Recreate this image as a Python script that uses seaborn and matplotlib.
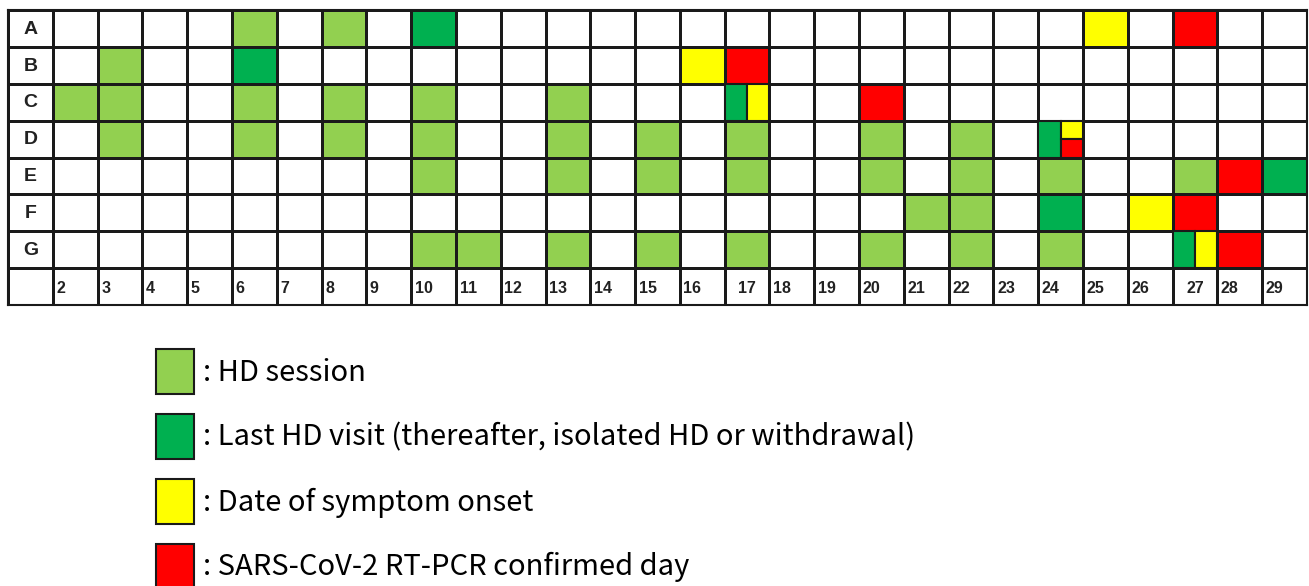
import numpy as np
import pandas as pd
import seaborn as sns
import matplotlib.pyplot as plt
from matplotlib.colors import ListedColormap
from matplotlib.patches import Rectangle, Patch

# --- data ---
patients = ['A', 'B', 'C', 'D', 'E', 'F', 'G']
days = list(range(2, 30))

hd_session = [('A', 6), ('A', 8),
              ('B', 3),
              ('C', 2), ('C', 3), ('C', 6), ('C', 8), ('C', 10), ('C', 13),
              ('D', 3), ('D', 6), ('D', 8), ('D', 10), ('D', 13), ('D', 15), ('D', 17), ('D', 20), ('D', 22),
              ('E', 10), ('E', 13), ('E', 15), ('E', 17), ('E', 20), ('E', 22), ('E', 24), ('E', 27),
              ('F', 21), ('F', 22),
              ('G', 10), ('G', 11), ('G', 13), ('G', 15), ('G', 17), ('G', 20), ('G', 22), ('G', 24)]
last_visit = [('A', 10), ('B', 6), ('E', 29), ('F', 24)]
symptom_onset = [('A', 25), ('B', 16), ('F', 26)]
pcr_confirmed = [('A', 27), ('B', 17), ('C', 20), ('E', 28), ('F', 27), ('G', 28)]
# same-day events: last visit + onset, and last visit + onset + PCR
split_visit_onset = [('C', 17), ('G', 27)]
split_visit_onset_pcr = [('D', 24)]
centered_day_labels = [17, 27]

legend_labels = [': HD session',
                 ': Last HD visit (thereafter, isolated HD or withdrawal)',
                 ': Date of symptom onset',
                 ': SARS-CoV-2 RT-PCR confirmed day']

colors = ['#FFFFFF', '#92D050', '#00B050', '#FFFF00', '#FF0000']

# --- build the grid (extra label column on the left and label row at bottom) ---
grid = pd.DataFrame(0, index=patients + [''], columns=['lab'] + days)
for code, cells in [(1, hd_session), (2, last_visit), (3, symptom_onset), (4, pcr_confirmed)]:
    for p, d in cells:
        grid.loc[p, d] = code

fig = plt.figure(figsize=(13.09, 5.86), dpi=100)
ax = fig.add_axes([8 / 1309, 1 - 305 / 586, 1299 / 1309, 295 / 586])

sns.heatmap(grid, cmap=ListedColormap(colors), vmin=-0.5, vmax=4.5, cbar=False,
            linewidths=2, linecolor='#1a1a1a', xticklabels=False, yticklabels=False, ax=ax)
for sp in ax.spines.values():
    sp.set_visible(True)
    sp.set_linewidth(1.5)
    sp.set_color('#1a1a1a')


def col_of(d):
    return days.index(d) + 1


def row_of(p):
    return patients.index(p)


for p, d in split_visit_onset:
    c, r = col_of(d), row_of(p)
    ax.add_patch(Rectangle((c, r), 0.5, 1, facecolor=colors[2], edgecolor='#1a1a1a', lw=1.5))
    ax.add_patch(Rectangle((c + 0.5, r), 0.5, 1, facecolor=colors[3], edgecolor='#1a1a1a', lw=1.5))
for p, d in split_visit_onset_pcr:
    c, r = col_of(d), row_of(p)
    ax.add_patch(Rectangle((c, r), 0.5, 1, facecolor=colors[2], edgecolor='#1a1a1a', lw=1.5))
    ax.add_patch(Rectangle((c + 0.5, r), 0.5, 0.5, facecolor=colors[3], edgecolor='#1a1a1a', lw=1.5))
    ax.add_patch(Rectangle((c + 0.5, r + 0.5), 0.5, 0.5, facecolor=colors[4], edgecolor='#1a1a1a', lw=1.5))

for p in patients:
    ax.text(0.5, row_of(p) + 0.52, p, ha='center', va='center', fontsize=14,
            fontweight='bold', family='Liberation Sans', color='#222222')
for d in days:
    if d in centered_day_labels:
        ax.text(col_of(d) + 0.5, len(patients) + 0.55, str(d), ha='center', va='center',
                fontsize=11.5, fontweight='bold', family='Liberation Sans', color='#222222')
    else:
        ax.text(col_of(d) + 0.08, len(patients) + 0.55, str(d), ha='left', va='center',
                fontsize=11.5, fontweight='bold', family='Liberation Sans', color='#222222')

handles = [Patch(facecolor=c, edgecolor='#1a1a1a', lw=1.5) for c in colors[1:]]
fig.legend(handles, legend_labels, loc='upper left', bbox_to_anchor=(156 / 1309, 1 - 349 / 586),
           frameon=False, borderpad=0, borderaxespad=0, handlelength=1.3, handleheight=2.0,
           handletextpad=0.3, labelspacing=0.68, prop={'family': 'Noto Sans CJK JP', 'size': 21})

fig.savefig('out.png', dpi=100)
